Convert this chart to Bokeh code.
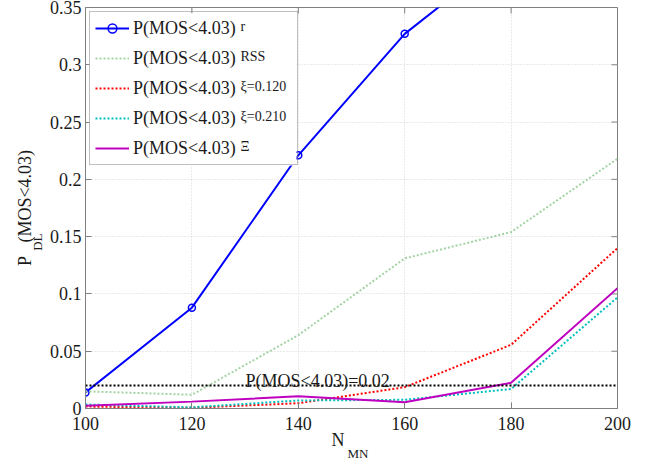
import numpy as np
from bokeh.plotting import figure
from bokeh.models import (Range1d, FixedTicker, Legend, LegendItem, Label, Span,
                          Title, BoxAnnotation)
from bokeh.core.properties import value
from bokeh.embed import file_html
from bokeh.resources import INLINE

# ---------------- data ----------------
N_MN = [100, 120, 140, 160, 180, 200]
P_R = [0.014, 0.088, 0.221, 0.327, 0.400, 0.470]
P_RSS = [0.015, 0.012, 0.064, 0.131, 0.154, 0.218]
P_XI120 = [0.0017, 0.0006, 0.0046, 0.0186, 0.0556, 0.140]
P_XI210 = [0.0035, 0.0010, 0.0070, 0.0076, 0.0170, 0.097]
P_XI = [0.0024, 0.0060, 0.0107, 0.0055, 0.0224, 0.105]
THRESHOLD = 0.02

X_TICKS = [100, 120, 140, 160, 180, 200]
X_TICK_LABELS = ["100", "120", "140", "160", "180", "200"]
Y_TICKS = [0, 0.05, 0.1, 0.15, 0.2, 0.25, 0.3, 0.35]
Y_TICK_LABELS = ["0", "0.05", "0.1", "0.15", "0.2", "0.25", "0.3", "0.35"]
X_MIN, X_MAX = 100, 200
Y_MIN, Y_MAX = 0, 0.35

LEGEND_BASE = "P(MOS<4.03)"
LEGEND_SUPS = ["r", "RSS", "ξ=0.120", "ξ=0.210", "Ξ"]
THRESH_TEXT = "P(MOS<4.03)=0.02"
X_LABEL_MAIN, X_LABEL_SUB = "N", "MN"
Y_LABEL_MAIN1, Y_LABEL_SUB, Y_LABEL_MAIN2 = "P", "DL", "(MOS<4.03)"

# ---------------- styling ----------------
FONT = "Liberation Serif"
AX = "#808080"
TXT = "#1a1a1a"
NB = "\u00a0"
FRAME_W, FRAME_H = 532, 401

p = figure(frame_width=FRAME_W, frame_height=FRAME_H,
           x_range=Range1d(X_MIN, X_MAX), y_range=Range1d(Y_MIN, Y_MAX),
           output_backend="svg", toolbar_location=None,
           min_border_left=85, min_border_right=42,
           min_border_top=7, min_border_bottom=51)
p.background_fill_color = "white"
p.border_fill_color = "white"
p.outline_line_color = AX
p.outline_line_width = 1

def style_axis(ax, ticks, labels, standoff):
    ax.ticker = FixedTicker(ticks=ticks)
    ax.major_label_overrides = dict(zip(ticks, labels))
    ax.major_tick_in = 6
    ax.major_tick_out = 0
    ax.minor_tick_in = 0
    ax.minor_tick_out = 0
    ax.axis_line_color = AX
    ax.major_tick_line_color = AX
    ax.major_label_text_font = FONT
    ax.major_label_text_color = TXT
    ax.major_label_text_font_size = "18px"
    ax.major_label_standoff = standoff
    ax.axis_label_text_font = FONT
    ax.axis_label_text_font_style = "normal"
    ax.axis_label_text_color = TXT

style_axis(p.xaxis[0], X_TICKS, X_TICK_LABELS, 8)
style_axis(p.yaxis[0], Y_TICKS, Y_TICK_LABELS, 4)

# axis titles: main part / subscript split between axis label and a Title
p.xaxis[0].axis_label = X_LABEL_MAIN + NB * 6
p.xaxis[0].axis_label_text_font_size = "18px"
p.xaxis[0].axis_label_standoff = -3
p.add_layout(Title(text=NB * 4 + X_LABEL_SUB, text_font=FONT, text_font_size="13px",
                   text_font_style="normal", text_color=TXT, align="center",
                   standoff=-16, vertical_align="middle"), "below")

p.yaxis[0].axis_label = Y_LABEL_SUB + NB * 21
p.yaxis[0].axis_label_text_font_size = "13px"
p.yaxis[0].axis_label_standoff = 2
p.add_layout(Title(text=Y_LABEL_MAIN1 + NB * 3 + Y_LABEL_MAIN2, text_font=FONT,
                   text_font_size="18px", text_font_style="normal", text_color=TXT,
                   align="center", offset=-2, standoff=-18, vertical_align="middle"),
             "left")

p.xgrid[0].ticker = FixedTicker(ticks=X_TICKS)
p.ygrid[0].ticker = FixedTicker(ticks=Y_TICKS)
for g in (p.xgrid[0], p.ygrid[0]):
    g.grid_line_color = "#d4d4d4"
    g.grid_line_dash = "1 2"
    g.grid_line_width = 1

# inner tick marks on the top and right edges of the box
tick_dy = 6 / FRAME_H * (Y_MAX - Y_MIN)
tick_dx = 6 / FRAME_W * (X_MAX - X_MIN)
p.segment(x0=X_TICKS, x1=X_TICKS, y0=[Y_MAX] * len(X_TICKS),
          y1=[Y_MAX - tick_dy] * len(X_TICKS), line_color=AX, line_width=1)
p.segment(x0=[X_MAX] * len(Y_TICKS), x1=[X_MAX - tick_dx] * len(Y_TICKS),
          y0=Y_TICKS, y1=Y_TICKS, line_color=AX, line_width=1)

# ---------------- series ----------------
r_line = p.line(N_MN, P_R, line_color="#0000ff", line_width=2)
r_mark = p.scatter(N_MN, P_R, marker="circle", size=7, line_color="#0000ff",
                   fill_color=None, line_width=1.5)
rss_line = p.line(N_MN, P_RSS, line_color="#a3d3a3", line_width=2, line_dash="2 2")
xi120_line = p.line(N_MN, P_XI120, line_color="#ff0000", line_width=2, line_dash="2 2")
xi210_line = p.line(N_MN, P_XI210, line_color="#00bfbf", line_width=2, line_dash="2 2")
xi_line = p.line(N_MN, P_XI, line_color="#bf00bf", line_width=2)

p.add_layout(Span(location=THRESHOLD, dimension="width", line_color="black",
                  line_width=2, line_dash="2 2"))
p.add_layout(Label(x=160, x_units="screen", y=THRESHOLD, y_units="data", y_offset=5,
                   text=THRESH_TEXT, text_font=FONT, text_font_size="18px",
                   text_color=TXT, text_baseline="alphabetic"))

# ---------------- legend ----------------
LEG_X, LEG_Y, LEG_W, LEG_H = 4, 243, 207, 152
p.add_layout(BoxAnnotation(left=LEG_X, right=LEG_X + LEG_W, bottom=LEG_Y, top=LEG_Y + LEG_H,
                           left_units="screen", right_units="screen",
                           bottom_units="screen", top_units="screen",
                           fill_color="white", fill_alpha=1, line_color=None))
renderers = [[r_line, r_mark], [rss_line], [xi120_line], [xi210_line], [xi_line]]
items = [LegendItem(label=value(LEGEND_BASE), renderers=rs) for rs in renderers]
legend = Legend(items=items, location=(LEG_X, LEG_Y), margin=0, padding=5,
                glyph_width=34, glyph_height=22, label_height=22, label_width=159,
                label_standoff=4, spacing=8,
                label_text_font=FONT, label_text_font_size="18px", label_text_color=TXT,
                border_line_color=AX, border_line_width=1,
                background_fill_alpha=0)
p.add_layout(legend)

for i, sup in enumerate(LEGEND_SUPS):
    c = 29 + 30 * i           # row centre (pixels from top of the picture)
    p.add_layout(Label(x=155, y=408 - (c - 3), x_units="screen", y_units="screen",
                       text=sup, text_font=FONT, text_font_size="14px", text_color=TXT,
                       text_baseline="alphabetic", level="overlay"))

open("out.html", "w").write(file_html(p, INLINE))
